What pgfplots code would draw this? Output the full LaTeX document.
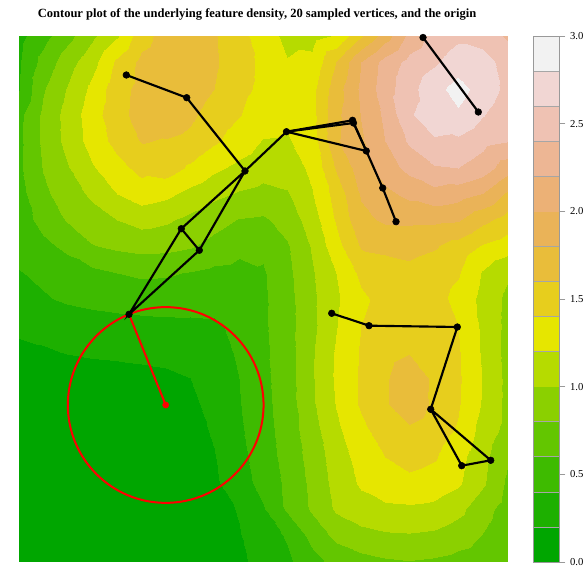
\documentclass[border=0pt]{standalone}
\usepackage{fontspec}
\setmainfont{Liberation Serif}
\usepackage{pgfplots}
\pgfplotsset{compat=1.18}

\begin{document}
\begin{tikzpicture}
\begin{axis}[
  view={0}{90},
  scale only axis, width=366pt, height=394.5pt,
  xmin=0, xmax=488, ymin=0, ymax=526,
  axis line style={draw=none}, ticks=none,
  colormap={terrainR}{rgb255=(0,166,0) rgb255=(29,176,0) rgb255=(62,187,0)
    rgb255=(99,198,0) rgb255=(139,208,0) rgb255=(182,219,0) rgb255=(230,230,0)
    rgb255=(231,206,29) rgb255=(233,189,58) rgb255=(234,179,88) rgb255=(236,177,118)
    rgb255=(237,182,148) rgb255=(239,194,179) rgb255=(241,214,211) rgb255=(242,242,242)},
  colormap access=piecewise constant,
  point meta min=0, point meta max=3,
  colorbar,
  colorbar style={
    at={(parent axis.north east)}, anchor=north west, xshift=11.25pt,
    scale only axis, width=19.5pt, height=394.5pt,
    ytick={0,0.5,...,3}, ytick pos=right,
    extra y ticks={0.2,0.4,0.6,0.8,1.2,1.4,1.6,1.8,2.2,2.4,2.6,2.8},
    extra y tick labels={},
    extra y tick style={major tick length=0pt, grid=major,
      major grid style={black!35, line width=0.5pt}},
    axis on top,
    tick align=outside, major tick length=4.5pt,
    axis line style={gray!80}, tick style={gray!80, line width=0.5pt},
    yticklabel style={font=\fontsize{8}{9}\selectfont,
      /pgf/number format/fixed, /pgf/number format/fixed zerofill,
      /pgf/number format/precision=1},
    /pgf/number format/assume math mode=true,
  },
]
% density grid (rows from top to bottom)
\addplot3[surf, shader=interp, mesh/cols=21] table {
x y z
0 526 0.34
24.4 526 0.53
48.8 526 0.74
73.2 526 0.96
97.6 526 1.18
122 526 1.52
146.4 526 1.68
170.8 526 1.72
195.2 526 1.62
219.6 526 1.47
244 526 1.30
268.4 526 1.15
292.8 526 1.13
317.2 526 1.22
341.6 526 1.58
366 526 1.90
390.4 526 2.26
414.8 526 2.46
439.2 526 2.56
463.6 526 2.50
488 526 2.38
0 499.7 0.38
24.4 499.7 0.67
48.8 499.7 0.92
73.2 499.7 1.13
97.6 499.7 1.44
122 499.7 1.65
146.4 499.7 1.72
170.8 499.7 1.76
195.2 499.7 1.63
219.6 499.7 1.47
244 499.7 1.36
268.4 499.7 1.21
292.8 499.7 1.25
317.2 499.7 1.60
341.6 499.7 2.00
366 499.7 2.28
390.4 499.7 2.46
414.8 499.7 2.57
439.2 499.7 2.70
463.6 499.7 2.70
488 499.7 2.50
0 473.4 0.39
24.4 473.4 0.78
48.8 473.4 1.02
73.2 473.4 1.25
97.6 473.4 1.52
122 473.4 1.66
146.4 473.4 1.73
170.8 473.4 1.72
195.2 473.4 1.60
219.6 473.4 1.45
244 473.4 1.36
268.4 473.4 1.30
292.8 473.4 1.34
317.2 473.4 1.71
341.6 473.4 2.04
366 473.4 2.31
390.4 473.4 2.53
414.8 473.4 2.73
439.2 473.4 2.88
463.6 473.4 2.71
488 473.4 2.55
0 447.1 0.55
24.4 447.1 0.84
48.8 447.1 1.08
73.2 447.1 1.31
97.6 447.1 1.54
122 447.1 1.67
146.4 447.1 1.72
170.8 447.1 1.64
195.2 447.1 1.51
219.6 447.1 1.41
244 447.1 1.30
268.4 447.1 1.24
292.8 447.1 1.33
317.2 447.1 1.75
341.6 447.1 2.01
366 447.1 2.24
390.4 447.1 2.58
414.8 447.1 2.70
439.2 447.1 2.77
463.6 447.1 2.61
488 447.1 2.48
0 420.8 0.56
24.4 420.8 0.84
48.8 420.8 1.07
73.2 420.8 1.28
97.6 420.8 1.47
122 420.8 1.61
146.4 420.8 1.59
170.8 420.8 1.55
195.2 420.8 1.43
219.6 420.8 1.31
244 420.8 1.19
268.4 420.8 1.18
292.8 420.8 1.30
317.2 420.8 1.77
341.6 420.8 1.97
366 420.8 2.20
390.4 420.8 2.43
414.8 420.8 2.58
439.2 420.8 2.56
463.6 420.8 2.46
488 420.8 2.41
0 394.5 0.57
24.4 394.5 0.81
48.8 394.5 0.99
73.2 394.5 1.18
97.6 394.5 1.33
122 394.5 1.46
146.4 394.5 1.50
170.8 394.5 1.37
195.2 394.5 1.24
219.6 394.5 1.15
244 394.5 1.08
268.4 394.5 1.10
292.8 394.5 1.24
317.2 394.5 1.62
341.6 394.5 1.90
366 394.5 2.10
390.4 394.5 2.26
414.8 394.5 2.38
439.2 394.5 2.40
463.6 394.5 2.30
488 394.5 2.09
0 368.2 0.53
24.4 368.2 0.76
48.8 368.2 0.90
73.2 368.2 1.04
97.6 368.2 1.20
122 368.2 1.30
146.4 368.2 1.25
170.8 368.2 1.14
195.2 368.2 1.05
219.6 368.2 0.98
244 368.2 0.94
268.4 368.2 0.98
292.8 368.2 1.19
317.2 368.2 1.48
341.6 368.2 1.82
366 368.2 1.95
390.4 368.2 2.05
414.8 368.2 2.13
439.2 368.2 2.08
463.6 368.2 1.99
488 368.2 1.77
0 341.9 0.50
24.4 341.9 0.67
48.8 341.9 0.82
73.2 341.9 0.91
97.6 341.9 1.00
122 341.9 1.07
146.4 341.9 1.03
170.8 341.9 0.95
195.2 341.9 0.87
219.6 341.9 0.79
244 341.9 0.77
268.4 341.9 0.88
292.8 341.9 1.10
317.2 341.9 1.42
341.6 341.9 1.75
366 341.9 1.83
390.4 341.9 1.84
414.8 341.9 1.84
439.2 341.9 1.82
463.6 341.9 1.65
488 341.9 1.52
0 315.6 0.47
24.4 315.6 0.55
48.8 315.6 0.65
73.2 315.6 0.79
97.6 315.6 0.84
122 315.6 0.87
146.4 315.6 0.86
170.8 315.6 0.82
195.2 315.6 0.74
219.6 315.6 0.66
244 315.6 0.64
268.4 315.6 0.78
292.8 315.6 1.02
317.2 315.6 1.33
341.6 315.6 1.62
366 315.6 1.64
390.4 315.6 1.66
414.8 315.6 1.62
439.2 315.6 1.52
463.6 315.6 1.38
488 315.6 1.30
0 289.3 0.39
24.4 289.3 0.44
48.8 289.3 0.50
73.2 289.3 0.55
97.6 289.3 0.60
122 289.3 0.63
146.4 289.3 0.62
170.8 289.3 0.59
195.2 289.3 0.55
219.6 289.3 0.53
244 289.3 0.58
268.4 289.3 0.75
292.8 289.3 0.98
317.2 289.3 1.20
341.6 289.3 1.45
366 289.3 1.52
390.4 289.3 1.55
414.8 289.3 1.50
439.2 289.3 1.42
463.6 289.3 1.18
488 289.3 1.03
0 263 0.32
24.4 263 0.38
48.8 263 0.43
73.2 263 0.46
97.6 263 0.48
122 263 0.50
146.4 263 0.50
170.8 263 0.49
195.2 263 0.48
219.6 263 0.49
244 263 0.57
268.4 263 0.73
292.8 263 0.96
317.2 263 1.17
341.6 263 1.36
366 263 1.47
390.4 263 1.52
414.8 263 1.48
439.2 263 1.34
463.6 263 1.14
488 263 0.96
0 236.7 0.25
24.4 236.7 0.26
48.8 236.7 0.29
73.2 236.7 0.31
97.6 236.7 0.33
122 236.7 0.34
146.4 236.7 0.35
170.8 236.7 0.36
195.2 236.7 0.37
219.6 236.7 0.45
244 236.7 0.57
268.4 236.7 0.72
292.8 236.7 0.95
317.2 236.7 1.19
341.6 236.7 1.40
366 236.7 1.50
390.4 236.7 1.56
414.8 236.7 1.52
439.2 236.7 1.40
463.6 236.7 1.16
488 236.7 0.95
0 210.4 0.15
24.4 210.4 0.18
48.8 210.4 0.21
73.2 210.4 0.23
97.6 210.4 0.24
122 210.4 0.25
146.4 210.4 0.26
170.8 210.4 0.29
195.2 210.4 0.34
219.6 210.4 0.42
244 210.4 0.56
268.4 210.4 0.71
292.8 210.4 0.98
317.2 210.4 1.22
341.6 210.4 1.42
366 210.4 1.54
390.4 210.4 1.59
414.8 210.4 1.54
439.2 210.4 1.42
463.6 210.4 1.17
488 210.4 0.94
0 184.1 0.08
24.4 184.1 0.09
48.8 184.1 0.10
73.2 184.1 0.11
97.6 184.1 0.12
122 184.1 0.14
146.4 184.1 0.16
170.8 184.1 0.20
195.2 184.1 0.30
219.6 184.1 0.40
244 184.1 0.55
268.4 184.1 0.71
292.8 184.1 0.98
317.2 184.1 1.23
341.6 184.1 1.43
366 184.1 1.58
390.4 184.1 1.70
414.8 184.1 1.57
439.2 184.1 1.43
463.6 184.1 1.19
488 184.1 0.95
0 157.8 0.06
24.4 157.8 0.07
48.8 157.8 0.08
73.2 157.8 0.08
97.6 157.8 0.09
122 157.8 0.10
146.4 157.8 0.12
170.8 157.8 0.16
195.2 157.8 0.26
219.6 157.8 0.39
244 157.8 0.54
268.4 157.8 0.70
292.8 157.8 0.97
317.2 157.8 1.21
341.6 157.8 1.43
366 157.8 1.58
390.4 157.8 1.72
414.8 157.8 1.57
439.2 157.8 1.42
463.6 157.8 1.18
488 157.8 0.95
0 131.5 0.05
24.4 131.5 0.05
48.8 131.5 0.06
73.2 131.5 0.06
97.6 131.5 0.07
122 131.5 0.08
146.4 131.5 0.10
170.8 131.5 0.14
195.2 131.5 0.22
219.6 131.5 0.37
244 131.5 0.52
268.4 131.5 0.69
292.8 131.5 0.92
317.2 131.5 1.16
341.6 131.5 1.35
366 131.5 1.50
390.4 131.5 1.57
414.8 131.5 1.50
439.2 131.5 1.38
463.6 131.5 1.12
488 131.5 0.94
0 105.2 0.04
24.4 105.2 0.04
48.8 105.2 0.05
73.2 105.2 0.05
97.6 105.2 0.06
122 105.2 0.07
146.4 105.2 0.08
170.8 105.2 0.12
195.2 105.2 0.19
219.6 105.2 0.34
244 105.2 0.50
268.4 105.2 0.67
292.8 105.2 0.88
317.2 105.2 1.10
341.6 105.2 1.28
366 105.2 1.40
390.4 105.2 1.47
414.8 105.2 1.42
439.2 105.2 1.27
463.6 105.2 1.06
488 105.2 0.83
0 78.9 0.04
24.4 78.9 0.04
48.8 78.9 0.04
73.2 78.9 0.05
97.6 78.9 0.05
122 78.9 0.06
146.4 78.9 0.07
170.8 78.9 0.10
195.2 78.9 0.17
219.6 78.9 0.31
244 78.9 0.47
268.4 78.9 0.64
292.8 78.9 0.85
317.2 78.9 1.07
341.6 78.9 1.23
366 78.9 1.32
390.4 78.9 1.35
414.8 78.9 1.31
439.2 78.9 1.23
463.6 78.9 1.03
488 78.9 0.77
0 52.6 0.03
24.4 52.6 0.03
48.8 52.6 0.04
73.2 52.6 0.04
97.6 52.6 0.05
122 52.6 0.05
146.4 52.6 0.06
170.8 52.6 0.09
195.2 52.6 0.15
219.6 52.6 0.21
244 52.6 0.38
268.4 52.6 0.63
292.8 52.6 0.83
317.2 52.6 1.03
341.6 52.6 1.12
366 52.6 1.16
390.4 52.6 1.17
414.8 52.6 1.15
439.2 52.6 1.06
463.6 52.6 0.87
488 52.6 0.72
0 26.3 0.03
24.4 26.3 0.03
48.8 26.3 0.03
73.2 26.3 0.04
97.6 26.3 0.04
122 26.3 0.04
146.4 26.3 0.05
170.8 26.3 0.08
195.2 26.3 0.13
219.6 26.3 0.19
244 26.3 0.30
268.4 26.3 0.42
292.8 26.3 0.66
317.2 26.3 0.85
341.6 26.3 0.93
366 26.3 0.97
390.4 26.3 0.98
414.8 26.3 0.96
439.2 26.3 0.89
463.6 26.3 0.79
488 26.3 0.68
0 0 0.02
24.4 0 0.02
48.8 0 0.03
73.2 0 0.03
97.6 0 0.03
122 0 0.04
146.4 0 0.05
170.8 0 0.07
195.2 0 0.12
219.6 0 0.17
244 0 0.25
268.4 0 0.36
292.8 0 0.53
317.2 0 0.66
341.6 0 0.73
366 0 0.77
390.4 0 0.79
414.8 0 0.77
439.2 0 0.73
463.6 0 0.69
488 0 0.64
};

% origin and its circle
\draw[red, line width=1.5pt] (axis cs:146.7,157,0) circle[radius=73.4pt];
\addplot[red, line width=1.5pt, mark=none] coordinates {(146.7,157) (110,247.7)};
\addplot[only marks, mark=*, red, mark size=2.3pt] coordinates {(146.7,157)};

% graph edges
\addplot[black, line width=1.6pt, mark=none] coordinates {
  (107.3,487) (167.7,464.3) (226,391) (267.5,430.3) (333.5,441.7)
  (347.3,411) (363.7,374) (377,340.3)};
\addplot[black, line width=1.6pt, mark=none] coordinates {(267.5,430.3) (334.5,439) (347.3,411)};
\addplot[black, line width=1.6pt, mark=none] coordinates {(267.5,430.3) (347.3,411)};
\addplot[black, line width=1.6pt, mark=none] coordinates {
  (226,391) (162.3,333.3) (110,247.7) (180.3,311.7) (226,391)};
\addplot[black, line width=1.6pt, mark=none] coordinates {(162.3,333.3) (180.3,311.7)};
\addplot[black, line width=1.6pt, mark=none] coordinates {(404,524.5) (459.3,450)};
\addplot[black, line width=1.6pt, mark=none] coordinates {
  (312.7,248.7) (350,236.3) (438.3,235) (411.7,152.7) (442.7,96.3) (471.7,101.7) (411.7,152.7)};

% sampled vertices
\addplot[only marks, mark=*, black, mark size=2.5pt] coordinates {
  (107.3,487) (167.7,464.3) (226,391) (162.3,333.3) (180.3,311.7) (110,247.7)
  (267.5,430.3) (333.5,441.7) (334.5,439) (347.3,411) (363.7,374) (377,340.3)
  (404,524.5) (459.3,450) (312.7,248.7) (350,236.3) (438.3,235) (411.7,152.7)
  (442.7,96.3) (471.7,101.7)};

\coordinate (sw) at (axis cs:0,0,0);
\coordinate (tt) at (axis cs:238,544.5,0);
\end{axis}
\node[anchor=base, inner sep=0pt, font=\bfseries\fontsize{9.4}{11}\selectfont] at (tt)
  {Contour plot of the underlying feature density, 20 sampled vertices, and the origin};
\pgfresetboundingbox
\useasboundingbox (sw) ++(-14.25pt,-6pt) rectangle ++(440.25pt,427.5pt);
\end{tikzpicture}
\end{document}
